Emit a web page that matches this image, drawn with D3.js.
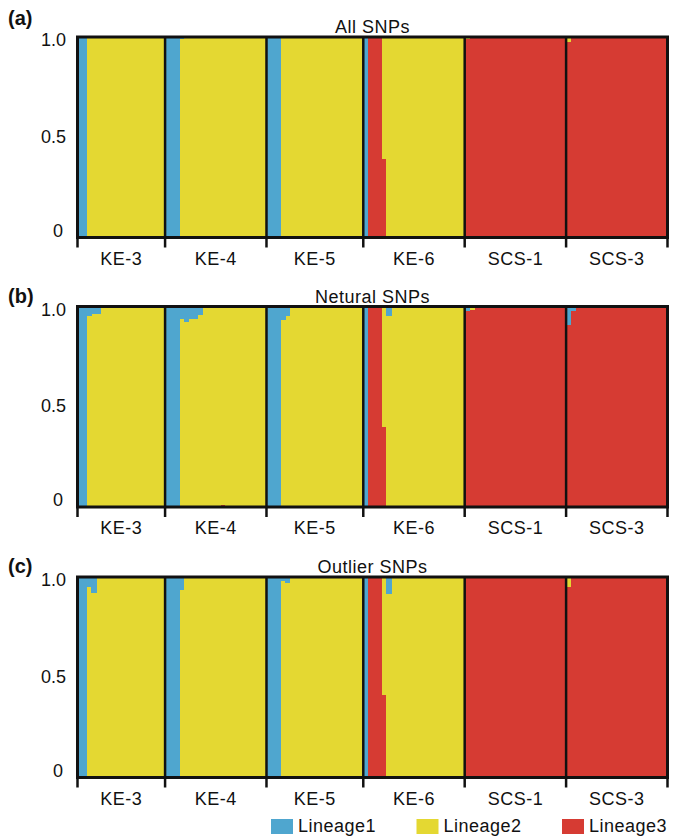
<!DOCTYPE html>
<html>
<head>
<meta charset="utf-8">
<script src="https://cdn.jsdelivr.net/npm/d3@7"></script>
<style>
  body { margin: 0; background: #fff; }
  svg { display: block; font-family: "Liberation Sans", Arial, sans-serif; }
</style>
</head>
<body>
<div id="chart"></div>
<script>
// populations and sample counts
var populations = ["KE-3", "KE-4", "KE-5", "KE-6", "SCS-1", "SCS-3"];
var popSizes = [19, 22, 21, 22, 22, 22];
var panelLetters = ["(a)", "(b)", "(c)"];
var panelTitles = ["All SNPs", "Netural SNPs", "Outlier SNPs"];
var lineageNames = ["Lineage1", "Lineage2", "Lineage3"];
var yTickValues = [0, 0.5, 1];
var yTickLabels = ["0", "0.5", "1.0"];

// membership (q) per individual, one row per population; Lineage2 is the remainder
var allLineage1 = [
    [1,1,0,0,0, 0,0,0,0,0, 0,0,0,0,0, 0,0,0,0],
    [1,1,1,.01,0, 0,0,0,0,0, 0,0,0,0,0, 0,0,0,0,0, 0,0],
    [1,1,1,0,0, 0,0,0,0,0, 0,0,0,0,0, 0,0,0,0,0, 0],
    [1,0,0,0,0, 0,0,0,0,0, 0,0,0,0,0, 0,0,0,0,0, 0,0],
    [0,0,0,0,0, 0,0,0,0,0, 0,0,0,0,0, 0,0,0,0,0, 0,0],
    [0,0,0,0,0, 0,0,0,0,0, 0,0,0,0,0, 0,0,0,0,0, 0,0]
];
var allLineage3 = [
    [0,0,0,0,0, 0,0,0,0,0, 0,0,0,0,0, 0,0,0,0],
    [0,0,0,0,0, 0,0,0,0,0, 0,0,0,0,0, 0,0,0,0,0, 0,0],
    [0,0,0,0,0, 0,0,0,0,0, 0,0,0,0,0, 0,0,0,0,0, 0],
    [0,1,1,1,.39, 0,0,0,0,0, 0,0,0,0,0, 0,0,0,0,0, 0,0],
    [.99,1,1,1,1, 1,1,1,1,1, 1,1,1,1,1, 1,1,1,1,1, 1,1],
    [.975,1,1,1,1, 1,1,1,1,1, 1,1,1,1,1, 1,1,1,1,1, 1,1]
];

var neutralLineage1 = [
    [1,1,.045,.035,.035, 0,0,0,0,0, 0,0,0,0,0, 0,0,0,0],
    [1,1,1,.063,.077, .063,.063,.04,0,0, 0,0,0,0,0, 0,0,0,0,0, 0,0],
    [1,1,1,.068,.047, 0,0,0,0,0, 0,0,0,0,0, 0,0,0,0,0, 0],
    [1,0,0,0,0, .047,0,0,0,0, 0,0,0,0,0, 0,0,0,0,0, 0,0],
    [.02,0,0,0,0, 0,0,0,0,0, 0,0,0,0,0, 0,0,0,0,0, 0,0],
    [.09,.02,0,0,0, 0,0,0,0,0, 0,0,0,0,0, 0,0,0,0,0, 0,0]
];
var neutralLineage3 = [
    [0,0,0,0,0, 0,0,0,0,0, 0,0,0,0,0, 0,0,0,0],
    [0,0,0,0,0, 0,0,0,0,0, 0,0,.012,0,0, 0,0,0,0,0, 0,0],
    [0,0,0,0,0, 0,0,0,0,0, 0,0,0,0,0, 0,0,0,0,0, 0],
    [0,1,1,1,.4, 0,0,0,0,0, 0,0,0,0,0, 0,0,0,0,0, 0,0],
    [.98,.985,1,1,1, 1,1,1,1,1, 1,1,1,1,1, 1,1,1,1,1, 1,1],
    [.91,.98,1,1,1, 1,1,1,1,1, 1,1,1,1,1, 1,1,1,1,1, 1,1]
];

var outlierLineage1 = [
    [1,1,.05,.078,0, 0,0,0,0,0, 0,0,0,0,0, 0,0,0,0],
    [1,1,1,.063,0, 0,0,0,0,0, 0,0,0,0,0, 0,0,0,0,0, 0,0],
    [1,1,1,.02,.028, 0,0,0,0,0, 0,0,0,0,0, 0,0,0,0,0, 0],
    [1,0,0,0,0, .083,0,0,0,0, 0,0,0,0,0, 0,0,0,0,0, 0,0],
    [0,0,0,0,0, 0,0,0,0,0, 0,0,0,0,0, 0,0,0,0,0, 0,0],
    [0,0,0,0,0, 0,0,0,0,0, 0,0,0,0,0, 0,0,0,0,0, 0,0]
];
var outlierLineage3 = [
    [0,0,0,0,0, 0,0,0,0,0, 0,0,0,0,0, 0,0,0,0],
    [0,0,0,0,0, 0,0,0,0,0, 0,0,0,0,0, 0,0,0,0,0, 0,0],
    [0,0,0,0,0, 0,0,0,0,0, 0,0,0,0,0, 0,0,0,0,0, 0],
    [0,1,1,1,.41, 0,0,0,0,0, 0,0,0,0,0, 0,0,0,0,0, 0,0],
    [1,1,1,1,1, 1,1,1,1,1, 1,1,1,1,1, 1,1,1,1,1, 1,1],
    [.95,1,1,1,1, 1,1,1,1,1, 1,1,1,1,1, 1,1,1,1,1, 1,1]
];

var panelLineage1 = [allLineage1, neutralLineage1, outlierLineage1];
var panelLineage3 = [allLineage3, neutralLineage3, outlierLineage3];

// layout
var width = 673, height = 837;
var plotLeft = 77.5, plotRight = 667.5;
var panelTop = [37, 306.5, 577];
var panelHeight = 200.5;
var colors = { l1: "#4fa6cf", l2: "#e4d832", l3: "#d63b33" };
var ink = "#111";

var svg = d3.select("#chart").append("svg")
    .attr("width", width)
    .attr("height", height);

// one id per individual, grouped by population
var ids = [];
popSizes.forEach(function(n, p) {
    for (var i = 0; i < n; i++) ids.push(populations[p] + "_" + i);
});

var x = d3.scaleBand()
    .domain(ids)
    .range([plotLeft, plotRight])
    .padding(0);
var bw = x.bandwidth();

// population edges in pixels
var edges = [plotLeft];
var start = 0;
popSizes.forEach(function(n) {
    start += n;
    edges.push(x(ids[start - 1]) + bw);
});

var stack = d3.stack().keys(["l3", "l2", "l1"]);

panelTitles.forEach(function(title, k) {
    var top = panelTop[k];
    var bottom = top + panelHeight;
    var y = d3.scaleLinear().domain([0, 1]).range([bottom, top]);

    var rows = [];
    populations.forEach(function(pop, p) {
        var l1 = panelLineage1[k][p];
        var l3 = panelLineage3[k][p];
        if (l1.length !== popSizes[p] || l3.length !== popSizes[p]) {
            throw new Error("bad count " + k + " " + pop + " " + l1.length + " " + l3.length);
        }
        for (var i = 0; i < popSizes[p]; i++) {
            rows.push({
                id: pop + "_" + i,
                l1: l1[i],
                l3: l3[i],
                l2: Math.max(0, 1 - l1[i] - l3[i])
            });
        }
    });

    var g = svg.append("g").attr("class", "panel");

    g.append("g")
        .attr("shape-rendering", "crispEdges")
      .selectAll("g")
        .data(stack(rows))
      .enter().append("g")
        .attr("fill", function(s) { return colors[s.key]; })
      .selectAll("rect")
        .data(function(s) { return s; })
      .enter().append("rect")
        .attr("x", function(d) { return x(d.data.id); })
        .attr("width", bw + 0.6)
        .attr("y", function(d) { return y(d[1]); })
        .attr("height", function(d) { return Math.max(0, y(d[0]) - y(d[1])); });

    // population dividers
    g.selectAll(".divider")
        .data(edges.slice(1, -1))
      .enter().append("line")
        .attr("class", "divider")
        .attr("x1", function(d) { return d; })
        .attr("x2", function(d) { return d; })
        .attr("y1", top)
        .attr("y2", bottom)
        .attr("stroke", ink)
        .attr("stroke-width", 2.5);

    // frame
    g.append("rect")
        .attr("x", plotLeft)
        .attr("y", top)
        .attr("width", plotRight - plotLeft)
        .attr("height", panelHeight)
        .attr("fill", "none")
        .attr("stroke", ink)
        .attr("stroke-width", 3);

    // bottom ticks at population edges
    g.selectAll(".tick")
        .data(edges)
      .enter().append("line")
        .attr("class", "tick")
        .attr("x1", function(d) { return d; })
        .attr("x2", function(d) { return d; })
        .attr("y1", bottom)
        .attr("y2", bottom + 10)
        .attr("stroke", ink)
        .attr("stroke-width", 2.5);

    // population labels
    g.selectAll(".pop")
        .data(populations)
      .enter().append("text")
        .attr("class", "pop")
        .attr("x", function(d, p) { return (edges[p] + edges[p + 1]) / 2; })
        .attr("y", bottom + 27)
        .attr("text-anchor", "middle")
        .attr("font-size", 18)
        .attr("letter-spacing", 0.5)
        .attr("fill", ink)
        .text(function(d) { return d; });

    // y labels (nudged inside the frame like the original)
    var nudge = [-7, -1, 3];
    g.selectAll(".ylab")
        .data(yTickValues)
      .enter().append("text")
        .attr("class", "ylab")
        .attr("x", function(d, i) { return i === 0 ? 63 : 66; })
        .attr("y", function(d, i) { return y(d) + nudge[i]; })
        .attr("dy", "0.35em")
        .attr("text-anchor", "end")
        .attr("font-size", 18)
        .attr("fill", ink)
        .text(function(d, i) { return yTickLabels[i]; });

    // title
    g.append("text")
        .attr("x", (plotLeft + plotRight) / 2)
        .attr("y", top - 4)
        .attr("text-anchor", "middle")
        .attr("font-size", 18)
        .attr("letter-spacing", 0.5)
        .attr("fill", ink)
        .text(title);

    // panel letter
    g.append("text")
        .attr("x", 8)
        .attr("y", k === 0 ? 25 : top - 4)
        .attr("font-size", 20)
        .attr("font-weight", "bold")
        .attr("fill", ink)
        .text(panelLetters[k]);
});

// legend
var legend = svg.append("g").attr("class", "legend")
    .selectAll("g")
    .data(lineageNames)
  .enter().append("g")
    .attr("transform", function(d, i) { return "translate(" + (271 + i * 145.5) + ",819)"; });

legend.append("rect")
    .attr("width", 22)
    .attr("height", 15)
    .attr("fill", function(d, i) { return colors["l" + (i + 1)]; });

legend.append("text")
    .attr("x", 27)
    .attr("y", 12.5)
    .attr("font-size", 18)
    .attr("letter-spacing", 0.5)
    .attr("fill", ink)
    .text(function(d) { return d; });
</script>
</body>
</html>
